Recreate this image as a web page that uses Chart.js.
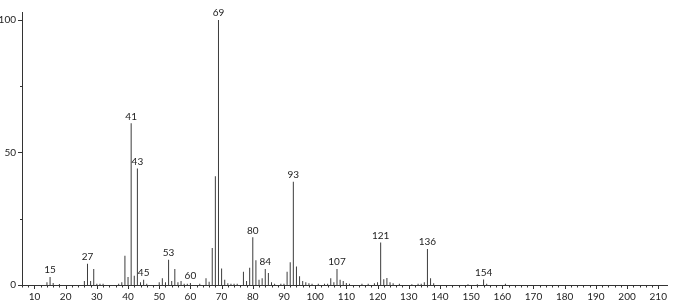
<!DOCTYPE html>
<html>
<head>
<meta charset="utf-8">
<script src="https://cdn.jsdelivr.net/npm/chart.js@4.4.1/dist/chart.umd.min.js"></script>
<style>
  html, body { margin: 0; padding: 0; background: #fff; }
  #wrap { width: 673px; height: 303px; }
</style>
</head>
<body>
<div id="wrap"><canvas id="msChart"></canvas></div>
<script>
// m/z waarden en relatieve intensiteit (%)
const masses = [14, 15, 16, 18, 26, 27, 28, 29, 30, 31, 32, 37, 38, 39, 40, 41, 42, 43, 44, 45, 46,
  50, 51, 52, 53, 54, 55, 56, 57, 58, 59, 60, 63, 65, 66, 67, 68, 69, 70, 71, 72, 73, 74, 75,
  77, 78, 79, 80, 81, 82, 83, 84, 85, 86, 87, 89, 90, 91, 92, 93, 94, 95, 96, 97, 98, 99,
  101, 103, 104, 105, 106, 107, 108, 109, 110, 111, 115, 117, 119, 120, 121, 122, 123, 124, 125,
  127, 131, 133, 134, 135, 136, 137, 138, 149, 152, 154, 155, 161];
const intensities = [1, 3, 0.8, 0.4, 1.5, 8, 1.5, 6, 0.5, 0.5, 0.5, 0.5, 1, 11, 3, 61, 3.5, 44, 1, 2, 0.5,
  1, 2.5, 1, 9.5, 1.5, 6, 1, 1.5, 0.5, 0.5, 0.8, 0.5, 2.5, 1.2, 14, 41, 100, 6.2, 2, 0.7, 0.5, 0.5, 0.5,
  5, 1.5, 6.5, 18, 9.3, 2, 2.5, 6, 4.5, 1, 0.5, 0.5, 0.5, 5, 8.6, 39, 7, 3.3, 1.5, 1, 0.7, 0.5,
  0.5, 0.5, 0.5, 2.5, 1, 6, 2, 1.5, 0.8, 0.5, 0.5, 0.5, 0.7, 1, 16, 2.2, 2.6, 1, 0.7,
  0.5, 0.3, 0.5, 0.5, 1, 13.6, 2.5, 0.7, 0.3, 0.3, 2.1, 0.5, 0.5];
// pieken met een label
const labeledPeaks = [15, 27, 41, 43, 45, 53, 60, 69, 80, 84, 93, 107, 121, 136, 154];
const xMin = 6, xMax = 213;
const yMax = 103;
const yTicks = [0, 25, 50, 75, 100];

const fontFamily = 'Lato, "DejaVu Sans", sans-serif';

// tekent de tickstreepjes (lang bij labels, kort ertussen)
const tickMarks = {
  id: 'tickMarks',
  afterDraw(chart) {
    const c = chart.ctx;
    const xs = chart.scales.x, ys = chart.scales.y;
    c.save();
    c.strokeStyle = '#333';
    c.lineWidth = 1;
    c.beginPath();
    xs.ticks.forEach(t => {
      const px = Math.round(xs.getPixelForValue(t.value)) + 0.5;
      const len = t.value % 10 === 0 ? 4 : 2.5;
      c.moveTo(px, xs.top);
      c.lineTo(px, xs.top + len);
    });
    ys.ticks.forEach(t => {
      const py = Math.round(ys.getPixelForValue(t.value)) + 0.5;
      const len = t.value % 50 === 0 ? 4 : 2;
      c.moveTo(ys.right, py);
      c.lineTo(ys.right - len, py);
    });
    c.stroke();
    c.restore();
  }
};

// zet de m/z waarde boven de gelabelde pieken
const peakLabels = {
  id: 'peakLabels',
  afterDatasetsDraw(chart) {
    const c = chart.ctx;
    const meta = chart.getDatasetMeta(0);
    c.save();
    c.fillStyle = '#222';
    c.font = '10px ' + fontFamily;
    c.textAlign = 'center';
    c.textBaseline = 'bottom';
    masses.forEach((m, i) => {
      if (!labeledPeaks.includes(m)) return;
      const bar = meta.data[i];
      c.fillText(String(m), bar.x, bar.y - 2);
    });
    c.restore();
  }
};

const ctx = document.getElementById('msChart').getContext('2d');
const msChart = new Chart(ctx, {
  type: 'bar',
  data: {
    datasets: [{
      data: masses.map((m, i) => ({ x: m, y: intensities[i] })),
      backgroundColor: '#3c3c3c',
      barThickness: 1,
      inflateAmount: 0,
      grouped: false
    }]
  },
  options: {
    responsive: true,
    maintainAspectRatio: false,
    animation: false,
    layout: { padding: { top: 7, right: 5, left: 0, bottom: 0 } },
    plugins: {
      legend: { display: false },
      tooltip: { enabled: false }
    },
    scales: {
      x: {
        type: 'linear',
        min: xMin,
        max: xMax,
        offset: false,
        grid: { display: false, drawTicks: false },
        border: { display: true, color: '#333', width: 1 },
        afterBuildTicks: scale => {
          scale.ticks = scale.ticks.filter(t => t.value % 2 === 0);
        },
        afterFit: scale => { scale.height = 18; },
        ticks: {
          stepSize: 2,
          autoSkip: false,
          maxRotation: 0,
          padding: 6,
          color: '#222',
          font: { family: fontFamily, size: 10 },
          callback: v => (v % 10 === 0 ? v : '')
        }
      },
      y: {
        min: 0,
        max: yMax,
        grid: { display: false, drawTicks: false },
        border: { display: true, color: '#333', width: 1 },
        afterBuildTicks: scale => {
          scale.ticks = yTicks.map(v => ({ value: v }));
        },
        afterFit: scale => { scale.width = 22; },
        ticks: {
          padding: 6,
          color: '#222',
          font: { family: fontFamily, size: 10 },
          callback: v => (v % 50 === 0 ? v : '')
        }
      }
    }
  },
  plugins: [tickMarks, peakLabels]
});
</script>
</body>
</html>
